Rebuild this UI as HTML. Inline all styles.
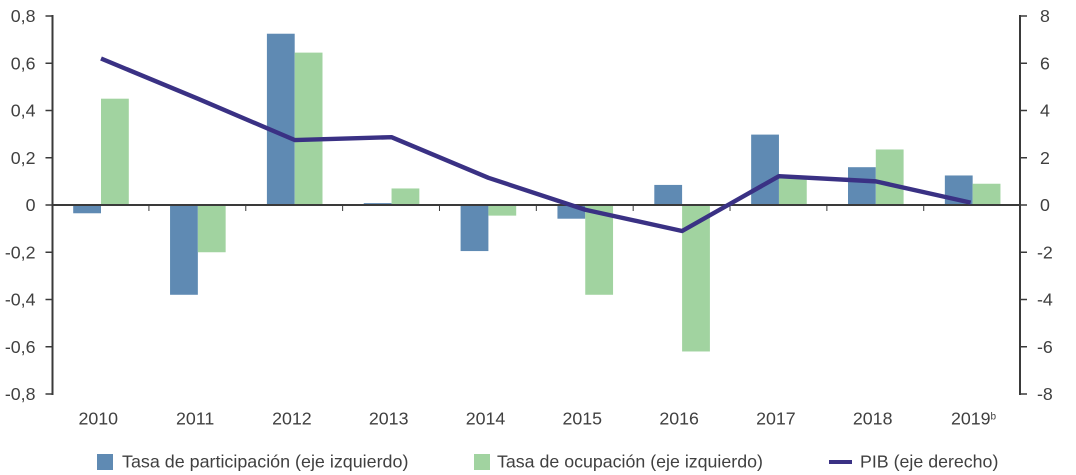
<!DOCTYPE html>
<html lang="es">
<head>
<meta charset="utf-8">
<title>Tasa de participación, tasa de ocupación y PIB</title>
<style>
html,body{margin:0;padding:0;background:#fff;width:1076px;height:475px;overflow:hidden}
svg{display:block}
text{font-family:"Liberation Sans",sans-serif;fill:#404040}
.tick{font-size:17.8px}
.leg{font-size:17.9px}
.leg2{font-size:17.8px}
</style>
</head>
<body>
<svg id="chart" width="1076" height="475" viewBox="0 0 1076 475" xmlns="http://www.w3.org/2000/svg">
  <g id="bars"></g>
  <g id="axes"></g>
  <g id="line"></g>
  <g id="labels"></g>
  <g>
    <rect x="97" y="454" width="16" height="16" fill="#5f8ab3"/>
    <text class="leg" x="122" y="467.5">Tasa de participación (eje izquierdo)</text>
    <rect x="474" y="454" width="16" height="16" fill="#a1d3a0"/>
    <text class="leg2" x="497" y="467.5">Tasa de ocupación (eje izquierdo)</text>
    <rect x="829" y="460" width="23" height="4" fill="#3a3184"/>
    <text class="leg2" x="860" y="467.5">PIB (eje derecho)</text>
  </g>
</svg>
<script>
const categories = ['2010','2011','2012','2013','2014','2015','2016','2017','2018','2019'];
const participacion = [-0.035,-0.38,0.725,0.008,-0.195,-0.058,0.085,0.298,0.16,0.125];
const ocupacion = [0.45,-0.2,0.645,0.07,-0.045,-0.38,-0.62,0.115,0.235,0.09];
const pib = [6.2,4.5,2.75,2.87,1.15,-0.2,-1.1,1.22,1.0,0.1];
const leftTicks = [0.8,0.6,0.4,0.2,0,-0.2,-0.4,-0.6,-0.8];
const rightTicks = [8,6,4,2,0,-2,-4,-6,-8];

const NS = 'http://www.w3.org/2000/svg';
const plot = {left:52.5, right:1020, top:16, bottom:394};
const barW = 27.8;
const bandW = 96.85;
const zeroY = (plot.top + plot.bottom) / 2;
const yLeft = v => zeroY - v / 0.8 * (plot.bottom - plot.top) / 2;
const yRight = v => zeroY - v / 8 * (plot.bottom - plot.top) / 2;
const xBand = i => 101 + bandW * i;
const xLabel = i => 98.3 + 96.8 * i;
const fmt = v => String(v).replace('.', ',');
const axisColor = '#3a3a3a';

function make(tag, attrs, parent) {
  const el = document.createElementNS(NS, tag);
  for (const k in attrs) el.setAttribute(k, attrs[k]);
  parent.appendChild(el);
  return el;
}

const barsG = document.getElementById('bars');
const axesG = document.getElementById('axes');
const lineG = document.getElementById('line');
const labelsG = document.getElementById('labels');

categories.forEach((c, i) => {
  const cx = xBand(i);
  const a = yLeft(participacion[i]);
  const b = yLeft(ocupacion[i]);
  const r1 = make('rect', {x: cx - barW, y: Math.min(a, zeroY), width: barW, height: Math.abs(a - zeroY), fill: '#5f8ab3'}, barsG);
  
  
  const r2 = make('rect', {x: cx, y: Math.min(b, zeroY), width: barW, height: Math.abs(b - zeroY), fill: '#a1d3a0'}, barsG);
  
  
});

const axisL = make('line', {x1: plot.left, x2: plot.left, y1: plot.top - 1, y2: plot.bottom + 1, stroke: axisColor, 'stroke-width': 2}, axesG);


const axisR = make('line', {x1: plot.right, x2: plot.right, y1: plot.top - 1, y2: plot.bottom + 1, stroke: axisColor, 'stroke-width': 2}, axesG);


const axisX = make('line', {x1: plot.left, x2: plot.right, y1: zeroY, y2: zeroY, stroke: axisColor, 'stroke-width': 2}, axesG);



for (let i = 1; i < categories.length; i++) {
  const x = xBand(i) - bandW / 2 - 0.5;
  const t = make('line', {x1: x, x2: x, y1: zeroY, y2: zeroY + 6, stroke: axisColor, 'stroke-width': 1}, axesG);
  
  
}

leftTicks.forEach(v => {
  const y = yLeft(v);
  const t = make('line', {x1: plot.left - 7, x2: plot.left, y1: y, y2: y, stroke: axisColor, 'stroke-width': 1.5}, axesG);
  
  
  const l = make('text', {x: 35.5, y: y + 6, 'text-anchor': 'end', class: 'tick'}, labelsG);
  l.textContent = fmt(v);
  
  
});

rightTicks.forEach(v => {
  const y = yRight(v);
  const t = make('line', {x1: plot.right, x2: plot.right + 7, y1: y, y2: y, stroke: axisColor, 'stroke-width': 1.5}, axesG);
  
  
  const l = make('text', {x: v < 0 ? 1037 : 1040, y: y + 6, 'text-anchor': 'start', class: 'tick'}, labelsG);
  l.textContent = fmt(v);
  
  
});

categories.forEach((c, i) => {
  const l = make('text', {x: xLabel(i) + (c === '2019' ? 4 : 0), y: 424.5, 'text-anchor': 'middle', class: 'tick'}, labelsG);
  l.textContent = c;
  
  
  if (c === '2019') {
    const s = make('tspan', {'font-size': 10, dy: -5}, l);
    s.textContent = 'b';
    
    
  }
});

const pts = pib.map((v, i) => (xBand(i) - (i === 9 ? 2 : 0)) + ',' + yRight(v)).join(' ');
const pl = make('polyline', {points: pts, fill: 'none', stroke: '#3a3184', 'stroke-width': 4.4, 'stroke-linejoin': 'round'}, lineG);


</script>
</body>
</html>
